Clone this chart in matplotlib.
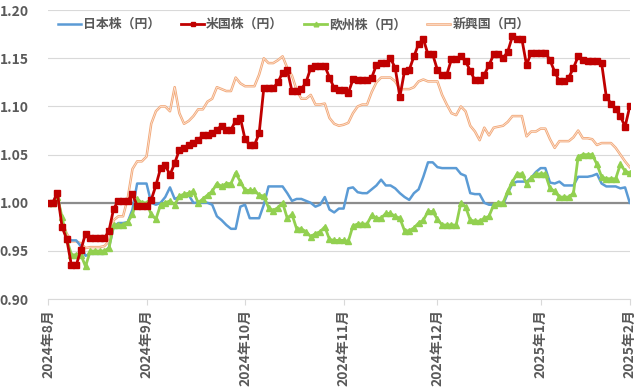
import numpy as np
import matplotlib.pyplot as plt
import matplotlib.patheffects as pe

plt.rcParams['font.family'] = ['Noto Sans CJK JP', 'DejaVu Sans']

# trading-day values (index 0 = 2024-08-01)
japan = [1.000, 1.000, 1.010, 0.980, 0.962, 0.961, 0.961, 0.955, 0.945, 0.947,
         0.947, 0.947, 0.947, 0.954, 0.975, 0.979, 0.979, 0.980, 0.993, 1.020,
         1.020, 1.020, 1.000, 0.998, 1.000, 1.006, 1.016, 1.004, 1.006, 1.008,
         1.008, 1.000, 1.000, 1.000, 1.000, 0.998, 0.986, 0.982, 0.977, 0.973,
         0.973, 0.996, 0.998, 0.984, 0.984, 0.984, 0.998, 1.017, 1.017, 1.017,
         1.017, 1.010, 1.002, 1.004, 1.004, 1.002, 1.000, 0.996, 0.998, 1.006,
         0.993, 0.990, 0.994, 0.994, 1.015, 1.016, 1.011, 1.010, 1.010, 1.014,
         1.018, 1.024, 1.018, 1.018, 1.015, 1.010, 1.006, 1.003, 1.010, 1.014,
         1.027, 1.042, 1.042, 1.037, 1.036, 1.036, 1.036, 1.036, 1.030, 1.028,
         1.010, 1.009, 1.009, 1.000, 0.998, 0.998, 0.998, 0.998, 1.010, 1.020,
         1.022, 1.022, 1.022, 1.026, 1.032, 1.036, 1.036, 1.021, 1.020, 1.022,
         1.018, 1.018, 1.018, 1.027, 1.027, 1.027, 1.028, 1.030, 1.020, 1.017,
         1.017, 1.017, 1.015, 1.016, 1.000]

usa = [1.000, 1.000, 1.010, 0.975, 0.962, 0.935, 0.935, 0.951, 0.968, 0.963,
       0.963, 0.963, 0.963, 0.971, 0.994, 1.002, 1.002, 1.002, 1.009, 0.997,
       0.997, 0.997, 1.003, 1.018, 1.036, 1.039, 1.029, 1.041, 1.055, 1.057,
       1.060, 1.062, 1.065, 1.070, 1.070, 1.072, 1.076, 1.080, 1.076, 1.076,
       1.085, 1.088, 1.066, 1.060, 1.060, 1.072, 1.119, 1.119, 1.119, 1.125,
       1.135, 1.138, 1.116, 1.116, 1.118, 1.125, 1.140, 1.142, 1.142, 1.142,
       1.130, 1.119, 1.117, 1.117, 1.114, 1.128, 1.127, 1.127, 1.127, 1.130,
       1.143, 1.145, 1.145, 1.150, 1.140, 1.110, 1.137, 1.138, 1.152, 1.165,
       1.170, 1.154, 1.154, 1.138, 1.133, 1.133, 1.149, 1.149, 1.152, 1.147,
       1.137, 1.127, 1.127, 1.133, 1.143, 1.154, 1.154, 1.150, 1.157, 1.173,
       1.170, 1.170, 1.143, 1.156, 1.156, 1.156, 1.156, 1.148, 1.136, 1.126,
       1.126, 1.130, 1.140, 1.152, 1.148, 1.147, 1.147, 1.147, 1.145, 1.110,
       1.103, 1.097, 1.090, 1.079, 1.100]

europe = [1.000, 1.000, 1.006, 0.985, 0.962, 0.946, 0.946, 0.946, 0.934, 0.950,
          0.950, 0.950, 0.950, 0.953, 0.977, 0.977, 0.977, 0.980, 0.988, 1.004,
          1.000, 1.000, 0.988, 0.983, 0.998, 1.000, 1.002, 0.998, 1.007, 1.009,
          1.010, 1.012, 1.000, 1.004, 1.008, 1.012, 1.020, 1.017, 1.020, 1.020,
          1.031, 1.022, 1.013, 1.013, 1.013, 1.008, 1.007, 0.995, 0.992, 0.995,
          1.000, 0.984, 0.988, 0.973, 0.973, 0.970, 0.965, 0.968, 0.970, 0.975,
          0.962, 0.961, 0.961, 0.961, 0.960, 0.976, 0.978, 0.978, 0.978, 0.987,
          0.984, 0.984, 0.989, 0.989, 0.986, 0.984, 0.971, 0.971, 0.974, 0.979,
          0.982, 0.991, 0.991, 0.983, 0.977, 0.977, 0.977, 0.977, 1.000, 0.996,
          0.982, 0.981, 0.981, 0.984, 0.986, 0.998, 1.000, 1.000, 1.012, 1.022,
          1.030, 1.030, 1.020, 1.026, 1.030, 1.030, 1.030, 1.015, 1.012, 1.006,
          1.006, 1.006, 1.010, 1.048, 1.050, 1.050, 1.050, 1.040, 1.027, 1.025,
          1.025, 1.025, 1.040, 1.033, 1.031]

emerging = [1.000, 1.000, 1.011, 0.980, 0.968, 0.960, 0.960, 0.958, 0.953, 0.954,
            0.954, 0.954, 0.955, 0.960, 0.982, 0.986, 0.986, 1.005, 1.035, 1.043,
            1.043, 1.048, 1.082, 1.095, 1.100, 1.100, 1.095, 1.120, 1.093, 1.082,
            1.085, 1.090, 1.097, 1.097, 1.105, 1.108, 1.120, 1.118, 1.116, 1.116,
            1.130, 1.124, 1.121, 1.121, 1.121, 1.133, 1.150, 1.145, 1.145, 1.148,
            1.152, 1.140, 1.132, 1.117, 1.108, 1.108, 1.112, 1.102, 1.102, 1.103,
            1.088, 1.082, 1.080, 1.081, 1.083, 1.093, 1.100, 1.102, 1.102, 1.115,
            1.125, 1.130, 1.130, 1.130, 1.126, 1.118, 1.118, 1.118, 1.120, 1.126,
            1.128, 1.126, 1.126, 1.126, 1.112, 1.102, 1.093, 1.091, 1.100, 1.095,
            1.080, 1.074, 1.065, 1.078, 1.070, 1.078, 1.079, 1.080, 1.084, 1.090,
            1.090, 1.090, 1.069, 1.074, 1.074, 1.077, 1.077, 1.066, 1.057, 1.064,
            1.064, 1.064, 1.068, 1.075, 1.067, 1.067, 1.066, 1.060, 1.062, 1.062,
            1.062, 1.057, 1.050, 1.043, 1.037]

month_labels = ['2024年8月', '2024年9月', '2024年10月', '2024年11月',
                '2024年12月', '2025年1月', '2025年2月']
month_pos = [0, 21, 42, 63, 83, 105, 124]

x = np.arange(len(japan))
label_color = '#595959'

fig = plt.figure(figsize=(6.4, 3.89), dpi=100)
ax = fig.add_axes([0.075, 0.231, 0.909, 0.743])

ax.axhline(1.0, color='#8c8c8c', lw=1.6, zorder=1)

ax.plot(x, japan, color='#5b9bd5', lw=1.8, label='日本株（円）', zorder=3)
ax.plot(x, usa, color='#c00000', lw=2.0, marker='s', markersize=4.2,
        label='米国株（円）', zorder=5)
ax.plot(x, europe, color='#92d050', lw=2.0, marker='^', markersize=4.2,
        label='欧州株（円）', zorder=4)
ax.plot(x, emerging, color='#fdebe0', lw=0.5, label='新興国（円）', zorder=2,
        path_effects=[pe.Stroke(linewidth=1.8, foreground='#f2a878'), pe.Normal()])

ax.set_xlim(0, len(japan) - 1)
ax.set_ylim(0.90, 1.20)
ax.set_yticks(np.arange(0.90, 1.201, 0.05))
ax.set_yticklabels([f'{v:.2f}' for v in np.arange(0.90, 1.201, 0.05)])
ax.yaxis.grid(True, color='#d9d9d9', lw=0.8)
ax.set_axisbelow(True)

ax.set_xticks(month_pos)
ax.set_xticklabels(month_labels, rotation=90)

for s in ['top', 'right', 'left']:
    ax.spines[s].set_visible(False)
ax.spines['bottom'].set_color('#d9d9d9')
ax.tick_params(axis='y', length=0, pad=14, labelsize=10, labelcolor=label_color)
ax.tick_params(axis='x', length=4, color='#d9d9d9', pad=3, labelsize=10,
               labelcolor=label_color)
for t in ax.get_xticklabels() + ax.get_yticklabels():
    t.set_fontweight('bold')

fig.legend(loc='center', bbox_to_anchor=(0.459, 0.938), ncol=4, frameon=False,
           handlelength=1.8, handletextpad=0.15, columnspacing=1.6,
           markerscale=0.8, labelcolor=label_color,
           prop={'weight': 'bold', 'size': 9.3})

fig.savefig('out.png', dpi=100)
